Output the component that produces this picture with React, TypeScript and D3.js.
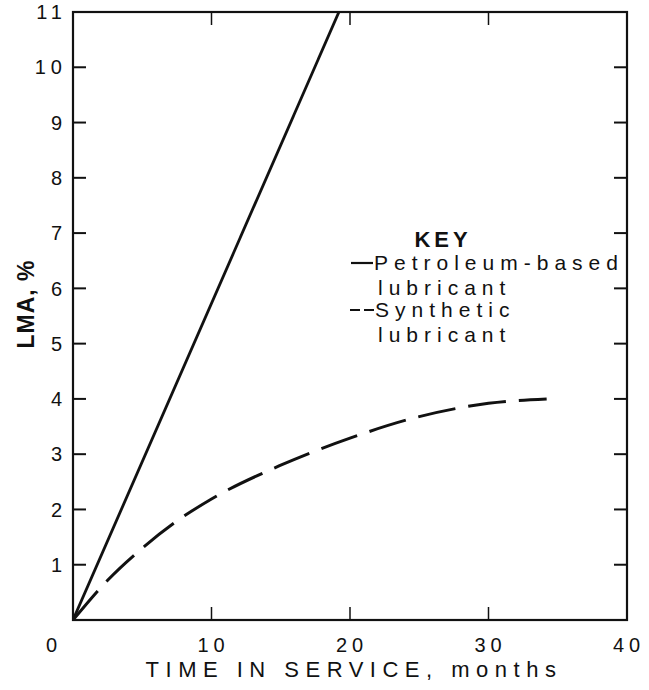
import React from "react";
import * as d3 from "d3";

const petroleumMonths = [0, 19.2];
const petroleumLMA = [0, 11];
const syntheticMonths = [0, 2.5, 5, 7.5, 10, 15, 20, 25, 30, 34.2];
const syntheticLMA = [0, 0.72, 1.3, 1.79, 2.19, 2.8, 3.29, 3.68, 3.92, 4.0];
const xTicks = [0, 10, 20, 30, 40];
const yTicks = [1, 2, 3, 4, 5, 6, 7, 8, 9, 10, 11];
const xTitle = "TIME IN SERVICE, months";
const yTitle = "LMA, %";
const keyTitle = "KEY";
const petroleumLabel = ["Petroleum-based", "lubricant"];
const syntheticLabel = ["Synthetic", "lubricant"];

const W = 649;
const H = 690;
const left = 73;
const right = 627;
const top = 12;
const bottom = 620;
const FONT = "'Liberation Sans', Arial, Helvetica, sans-serif";

export default function App() {
  const x = d3.scaleLinear().domain([0, 40]).range([left, right]);
  const y = d3.scaleLinear().domain([0, 11]).range([bottom, top]);
  const line = d3
    .line<[number, number]>()
    .x((d) => x(d[0]))
    .y((d) => y(d[1]));
  const curve = d3
    .line<[number, number]>()
    .x((d) => x(d[0]))
    .y((d) => y(d[1]))
    .curve(d3.curveMonotoneX);
  const petro: [number, number][] = petroleumMonths.map((m, i) => [m, petroleumLMA[i]]);
  const synth: [number, number][] = syntheticMonths.map((m, i) => [m, syntheticLMA[i]]);
  const tl = 13;

  return (
    <svg
      width={W}
      height={H}
      style={{ position: "absolute", left: 0, top: 0, background: "#fff" }}
      fontFamily={FONT}
    >
      <rect x={0} y={0} width={W} height={H} fill="#fff" />
      <defs>
        <clipPath id="plot">
          <rect x={left} y={top} width={right - left} height={bottom - top} />
        </clipPath>
      </defs>
      <rect x={left} y={top} width={right - left} height={bottom - top} fill="none" stroke="#111" strokeWidth={2.2} />
      {yTicks.slice(0, -1).map((t) => (
        <g key={"yt" + t}>
          <line x1={left} x2={left + tl} y1={y(t)} y2={y(t)} stroke="#111" strokeWidth={2} />
          <line x1={right} x2={right - tl} y1={y(t)} y2={y(t)} stroke="#111" strokeWidth={2} />
        </g>
      ))}
      {xTicks.slice(1, -1).map((t) => (
        <g key={"xt" + t}>
          <line x1={x(t)} x2={x(t)} y1={bottom} y2={bottom - tl} stroke="#111" strokeWidth={1.5} />
          <line x1={x(t)} x2={x(t)} y1={top} y2={top + tl} stroke="#111" strokeWidth={1.5} />
        </g>
      ))}
      {yTicks.map((t) => (
        <text
          key={"yl" + t}
          x={67}
          y={y(t)}
          dy="0.36em"
          textAnchor="end"
          fontSize={20}
          letterSpacing={5}
          fill="#111"
        >
          {t}
        </text>
      ))}
      {xTicks.map((t) => (
        <text
          key={"xl" + t}
          x={t === 0 ? x(t) - 19 : x(t) + 2}
          y={652}
          textAnchor="middle"
          fontSize={20}
          letterSpacing={5}
          fill="#111"
        >
          {t}
        </text>
      ))}
      <text x={354} y={677} textAnchor="middle" fontSize={22} letterSpacing={6.5} fill="#111">
        {xTitle}
      </text>
      <text
        transform={`translate(34, 304) rotate(-90)`}
        textAnchor="middle"
        fontSize={23}
        fontWeight="bold"
        letterSpacing={1}
        fill="#111"
      >
        {yTitle}
      </text>
      <g clipPath="url(#plot)">
        <path d={line(petro) || ""} fill="none" stroke="#111" strokeWidth={2.8} />
        <path d={curve(synth) || ""} fill="none" stroke="#111" strokeWidth={3} strokeDasharray="38 13" />
      </g>
      <text x={443} y={247} textAnchor="middle" fontSize={22} fontWeight="bold" letterSpacing={4} fill="#111">
        {keyTitle}
      </text>
      <line x1={351} x2={373} y1={263} y2={263} stroke="#111" strokeWidth={2.2} />
      <text x={374} y={270} fontSize={21} letterSpacing={6} fill="#111">
        {petroleumLabel[0]}
      </text>
      <text x={378} y={295} fontSize={21} letterSpacing={6} fill="#111">
        {petroleumLabel[1]}
      </text>
      <line x1={350} x2={374} y1={310} y2={310} stroke="#111" strokeWidth={2.2} strokeDasharray="10 4" />
      <text x={375} y={317} fontSize={21} letterSpacing={6} fill="#111">
        {syntheticLabel[0]}
      </text>
      <text x={378} y={342} fontSize={21} letterSpacing={6} fill="#111">
        {syntheticLabel[1]}
      </text>
    </svg>
  );
}
